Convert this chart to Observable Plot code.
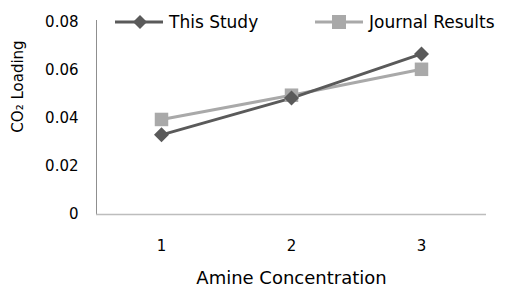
<!DOCTYPE html>
<html><head><meta charset="utf-8">
<script src="https://cdn.jsdelivr.net/npm/d3@7"></script>
<script src="https://cdn.jsdelivr.net/npm/@observablehq/plot@0.6"></script>
<style>
body{margin:0;background:#fff;font-family:"DejaVu Sans",Verdana,sans-serif;}
#wrap{position:relative;width:506px;height:298px;}
.leg{position:absolute;top:12px;font-size:17px;color:#000;display:flex;align-items:center;height:20px;}
.leg svg{margin-right:6px;}
</style></head>
<body><div id="wrap"></div>
<script>
const concentrations = ["1", "2", "3"];
const thisStudy = [0.0332, 0.0485, 0.0669];
const journal = [0.0396, 0.0497, 0.0605];
const yTicks = [0, 0.02, 0.04, 0.06, 0.08];
const seriesNames = ["This Study", "Journal Results"];
const colors = ["#5a5a5a", "#a9a9a9"];

const data = [];
concentrations.forEach((c, i) => {
  data.push({x: c, y: thisStudy[i], s: seriesNames[0]});
  data.push({x: c, y: journal[i], s: seriesNames[1]});
});

const rhombus = {draw(ctx, size) { const h = Math.sqrt(size) / 2; ctx.moveTo(0, -h); ctx.lineTo(h, 0); ctx.lineTo(0, h); ctx.lineTo(-h, 0); ctx.closePath(); }};
const sq = {draw(ctx, size) { const h = Math.sqrt(size) / 2; ctx.rect(-h, -h, 2 * h, 2 * h); }};

const chart = Plot.plot({
  width: 506, height: 298,
  marginLeft: 96, marginRight: 20, marginTop: 22, marginBottom: 84,
  style: {fontFamily: '"DejaVu Sans", Verdana, sans-serif', fontSize: "15px", color: "#000", background: "#fff"},
  x: {type: "band", domain: concentrations, padding: 0, label: null},
  y: {domain: [0, 0.08], label: null},
  marks: [
    Plot.axisY({ticks: yTicks, tickSize: 0, tickPadding: 18, tickFormat: d => d === 0 ? "0" : d.toFixed(2), fontSize: 15, label: null}),
    Plot.axisX({tickSize: 0, tickPadding: 26, fontSize: 15, label: null}),
    Plot.frame({anchor: "left", stroke: "#8f8f8f", strokeWidth: 1, insetTop: -2}),
    Plot.ruleY([0], {stroke: "#bdbdbd", strokeWidth: 1.5}),
    Plot.line(data.filter(d => d.s === seriesNames[1]), {x: "x", y: "y", stroke: colors[1], strokeWidth: 3}),
    Plot.line(data.filter(d => d.s === seriesNames[0]), {x: "x", y: "y", stroke: colors[0], strokeWidth: 3}),
    Plot.dot(data.filter(d => d.s === seriesNames[1]), {x: "x", y: "y", symbol: sq, r: 13.5 / Math.sqrt(Math.PI), fill: colors[1]}),
    Plot.dot(data.filter(d => d.s === seriesNames[0]), {x: "x", y: "y", symbol: rhombus, r: 15 / Math.sqrt(Math.PI), fill: colors[0]}),
    Plot.text(["CO₂ Loading"], {frameAnchor: "left", textAnchor: "middle", lineAnchor: "middle", rotate: -90, dx: -78, dy: -32, fontSize: 15, fill: "#000"}),
    Plot.text(["Amine Concentration"], {frameAnchor: "bottom", dy: 69, fontSize: 18, fill: "#000"})
  ]
});
const wrap = document.getElementById("wrap");
wrap.appendChild(chart);

const legPos = [115, 315];
seriesNames.forEach((n, i) => {
  const div = document.createElement("div");
  div.className = "leg";
  div.style.left = legPos[i] + "px";
  const sym = i === 0
    ? `<path d="M25,3 L32,10 L25,17 L18,10 Z" fill="${colors[0]}"/>`
    : `<rect x="17" y="3" width="14" height="14" fill="${colors[1]}"/>`;
  div.innerHTML = `<svg width="48" height="20"><line x1="0" x2="48" y1="10" y2="10" stroke="${colors[i]}" stroke-width="3"/>${sym}</svg><span>${n}</span>`;
  wrap.appendChild(div);
});
</script></body></html>
